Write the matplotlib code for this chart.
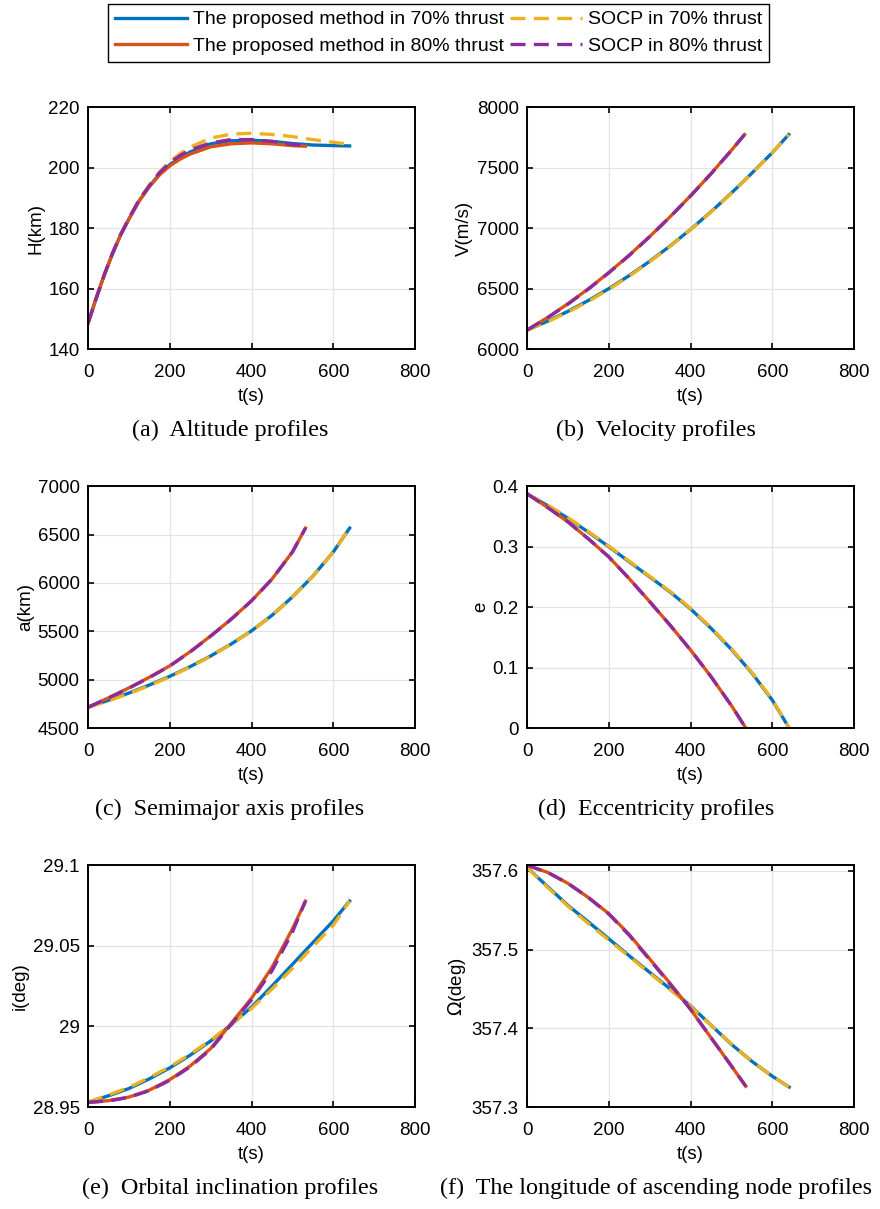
import matplotlib
matplotlib.use('Agg')
import matplotlib.pyplot as plt
from matplotlib.ticker import FuncFormatter

plt.rcParams['font.family'] = ['Liberation Sans', 'DejaVu Sans']
plt.rcParams['mathtext.fontset'] = 'custom'

BLUE = '#0072BD'; RED = '#D95319'; YEL = '#EDB120'; PUR = '#8A2BA0'

# (a) altitude, km
t70_h = [0, 20, 40, 60, 80, 100, 125, 150, 175, 200, 225, 250, 300, 350, 400, 450, 500, 550, 600, 640]
h_p70 = [148.5, 156.8, 164.6, 171.6, 177.8, 183.0, 189.0, 193.8, 197.9, 201.0, 203.3, 205.2, 207.9, 208.9, 209.1, 208.7, 208.0, 207.5, 207.3, 207.2]
h_s70 = [148.5, 156.8, 164.6, 171.7, 178.0, 183.3, 189.4, 194.3, 198.6, 202.0, 204.6, 206.8, 209.8, 211.1, 211.4, 211.0, 210.3, 209.3, 208.4, 207.7]
t80_h = [0, 20, 40, 60, 80, 100, 125, 150, 175, 200, 225, 250, 300, 350, 400, 450, 500, 532]
h_p80 = [148.5, 156.8, 164.6, 171.6, 177.8, 183.0, 189.0, 193.7, 197.6, 200.6, 202.8, 204.5, 206.9, 207.9, 208.2, 207.9, 207.3, 207.1]
h_s80 = [148.5, 156.8, 164.6, 171.7, 177.9, 183.2, 189.3, 194.0, 198.3, 201.6, 204.0, 205.9, 208.2, 209.3, 209.3, 208.7, 207.7, 207.3]

# (b) velocity, m/s
t70 = [0, 50, 100, 150, 200, 250, 300, 350, 400, 450, 500, 550, 600, 640]
v_p70 = [6157, 6230, 6312, 6402, 6500, 6608, 6726, 6853, 6990, 7136, 7291, 7455, 7625, 7774]
v_s70 = [6157, 6226, 6305, 6395, 6494, 6603, 6722, 6850, 6988, 7134, 7289, 7453, 7624, 7774]
t80 = [0, 50, 100, 150, 200, 250, 300, 350, 400, 450, 500, 532]
v_p80 = [6157, 6261, 6375, 6499, 6633, 6777, 6931, 7095, 7268, 7451, 7645, 7774]
v_s80 = [6157, 6259, 6372, 6496, 6631, 6775, 6929, 7094, 7267, 7450, 7644, 7774]

# (c) semimajor axis, km
a_p70 = [4715, 4787, 4862, 4945, 5035, 5135, 5245, 5368, 5505, 5665, 5855, 6070, 6320, 6567]
a_s70 = [4715, 4782, 4856, 4939, 5030, 5131, 5242, 5366, 5503, 5663, 5853, 6068, 6318, 6567]
a_p80 = [4715, 4812, 4915, 5025, 5143, 5290, 5452, 5625, 5816, 6040, 6320, 6567]
a_s80 = [4715, 4810, 4912, 5022, 5141, 5288, 5450, 5624, 5815, 6039, 6319, 6567]

# (d) eccentricity
t70_e = [0, 50, 100, 150, 200, 250, 300, 350, 400, 450, 500, 550, 600, 641]
e_p70 = [0.3875, 0.368, 0.347, 0.324, 0.300, 0.275, 0.250, 0.225, 0.197, 0.165, 0.130, 0.091, 0.046, 0.0]
e_s70 = [0.3875, 0.369, 0.348, 0.325, 0.301, 0.276, 0.251, 0.226, 0.198, 0.166, 0.131, 0.092, 0.047, 0.0]
t80_e = [0, 50, 100, 150, 200, 250, 300, 350, 400, 450, 500, 535]
e_p80 = [0.3875, 0.365, 0.341, 0.313, 0.283, 0.247, 0.209, 0.170, 0.129, 0.085, 0.037, 0.0]
e_s80 = [0.3875, 0.365, 0.341, 0.313, 0.283, 0.247, 0.209, 0.170, 0.129, 0.085, 0.037, 0.0]

# (e) orbital inclination, deg
i_p70 = [28.9530, 28.9570, 28.9615, 28.9675, 28.9743, 28.9822, 28.9910, 29.0010, 29.0120, 29.0250, 29.0385, 29.0520, 29.0655, 29.0778]
i_s70 = [28.9530, 28.9575, 28.9622, 28.9683, 28.9750, 28.9828, 28.9915, 29.0012, 29.0112, 29.0232, 29.0360, 29.0495, 29.0628, 29.0778]
i_p80 = [28.9529, 28.9540, 28.9562, 28.9605, 28.9670, 28.9755, 28.9863, 29.0019, 29.0175, 29.0366, 29.0605, 29.0778]
i_s80 = [28.9529, 28.9538, 28.9560, 28.9602, 28.9666, 28.9750, 28.9858, 29.0012, 29.0165, 29.0345, 29.0585, 29.0778]

# (f) longitude of ascending node, deg
o_p70 = [357.604, 357.580, 357.556, 357.535, 357.5136, 357.492, 357.471, 357.450, 357.4285, 357.404, 357.3796, 357.358, 357.3391, 357.3255]
o_s70 = [357.604, 357.579, 357.555, 357.533, 357.512, 357.491, 357.470, 357.449, 357.428, 357.404, 357.380, 357.358, 357.339, 357.3255]
t80_o = [0, 50, 100, 150, 200, 250, 300, 350, 400, 450, 500, 535]
o_p80 = [357.607, 357.598, 357.584, 357.566, 357.5455, 357.519, 357.488, 357.457, 357.424, 357.388, 357.352, 357.3264]
o_s80 = [357.607, 357.598, 357.584, 357.566, 357.545, 357.518, 357.487, 357.456, 357.424, 357.388, 357.352, 357.3264]

labels = ['The proposed method in 70% thrust', 'The proposed method in 80% thrust',
          'SOCP in 70% thrust', 'SOCP in 80% thrust']
captions = ['(a)  Altitude profiles', '(b)  Velocity profiles', '(c)  Semimajor axis profiles',
            '(d)  Eccentricity profiles', '(e)  Orbital inclination profiles',
            '(f)  The longitude of ascending node profiles']
ylabels = ['H(km)', 'V(m/s)', 'a(km)', 'e', 'i(deg)', r'$\Omega$(deg)']

panels = [
    (t70_h, h_p70, h_s70, t80_h, h_p80, h_s80, (140, 220), [140, 160, 180, 200, 220]),
    (t70, v_p70, v_s70, t80, v_p80, v_s80, (6000, 8000), [6000, 6500, 7000, 7500, 8000]),
    (t70, a_p70, a_s70, t80, a_p80, a_s80, (4500, 7000), [4500, 5000, 5500, 6000, 6500, 7000]),
    (t70_e, e_p70, e_s70, t80_e, e_p80, e_s80, (0, 0.4), [0, 0.1, 0.2, 0.3, 0.4]),
    (t70, i_p70, i_s70, t80, i_p80, i_s80, (28.95, 29.1), [28.95, 29.0, 29.05, 29.1]),
    (t70_e, o_p70, o_s70, t80_o, o_p80, o_s80, (357.3, 357.607), [357.3, 357.4, 357.5, 357.6]),
]

fig = plt.figure(figsize=(8.8, 12.09), dpi=100)
lefts = [0.100, 0.599]
bottoms = [0.7113, 0.3978, 0.0843]
cap_x = [0.2614, 0.7455]
W, H = 0.3716, 0.2000
DASH = (4.5, 2.5)

for k, (ta, pa, sa, tb, pb, sb, ylim, yt) in enumerate(panels):
    r, c = divmod(k, 2)
    ax = fig.add_axes([lefts[c], bottoms[r], W, H])
    l1, = ax.plot(ta, pa, color=BLUE, lw=2.4)
    l3, = ax.plot(ta, sa, color=YEL, lw=2.4, ls='--', dashes=DASH)
    l2, = ax.plot(tb, pb, color=RED, lw=2.4)
    l4, = ax.plot(tb, sb, color=PUR, lw=2.4, ls='--', dashes=DASH)
    ax.set_xlim(0, 800)
    ax.set_xticks([0, 200, 400, 600, 800])
    ax.set_ylim(*ylim)
    ax.set_yticks(yt)
    ax.yaxis.set_major_formatter(FuncFormatter(lambda v, p: '%g' % round(v, 4)))
    ax.grid(True, color='#e3e3e3', lw=0.9)
    ax.set_axisbelow(True)
    ax.tick_params(direction='in', top=True, right=True, length=4, width=1.2,
                   labelsize=13.5)
    ax.tick_params(axis='x', pad=11)
    ax.tick_params(axis='y', pad=6)
    for s in ax.spines.values():
        s.set_linewidth(1.4)
    ax.set_xlabel('t(s)', fontsize=13.5, labelpad=5)
    ax.set_ylabel(ylabels[k], fontsize=13.5, labelpad=2.5)
    fig.text(cap_x[c], bottoms[r] - 0.0675, captions[k], ha='center', va='center',
             fontsize=17.4, family=['Liberation Serif', 'DejaVu Serif'])

fig.legend([l1, l2, l3, l4], labels, ncol=2, loc='upper center',
           bbox_to_anchor=(0.4983, 0.9967), borderaxespad=0, fontsize=14, frameon=True,
           fancybox=False, edgecolor='black', framealpha=1, borderpad=0.35,
           labelspacing=0.45, handlelength=3.7, handletextpad=0.3, columnspacing=0.3)

fig.savefig('out.png', dpi=100)
